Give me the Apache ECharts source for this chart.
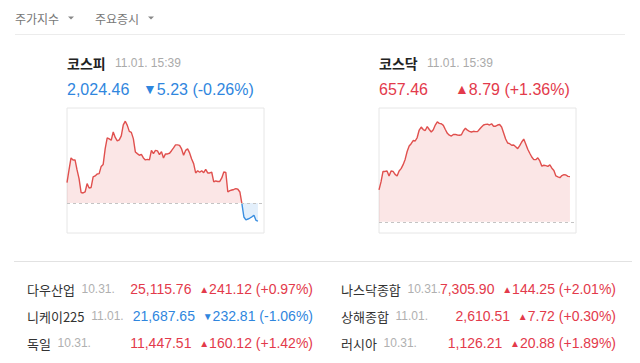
<!DOCTYPE html>
<html><head><meta charset="utf-8">
<script src="https://cdn.jsdelivr.net/npm/echarts@6/dist/echarts.min.js"></script>
<style>html,body{margin:0;padding:0;background:#fff}#c{width:640px;height:363px}</style>
</head><body><div id="c"></div>
<script>
const tabLabels = ['주가지수', '주요증시'];
const indexNames = ['코스피', '코스닥'];
const indexTimes = ['11.01. 15:39', '11.01. 15:39'];
const indexPrices = ['2,024.46', '657.46'];
const indexChanges = [-5.23, 8.79];
const indexRates = [-0.26, 1.36];
const prevCloses = [2029.69, 648.67];
const yRanges = [[2021.0, 2057.2], [646.5, 670.8]];
const kospiValues = [
  2035.58, 2039.26, 2042.74, 2042.16, 2042.16, 2039.26, 2036.74, 2032.74, 2032.59, 2032.88,
  2035.29, 2034.04, 2034.19, 2037.23, 2037.52, 2038.10, 2038.19, 2040.28, 2040.86, 2045.44,
  2048.54, 2048.25, 2047.87, 2050.28, 2048.69, 2047.67, 2047.96, 2049.12, 2052.31, 2053.38,
  2052.17, 2050.43, 2050.14, 2048.34, 2044.48, 2043.99, 2043.52, 2043.76, 2042.74, 2042.16,
  2042.31, 2042.16, 2044.92, 2043.99, 2044.92, 2044.77, 2043.70, 2044.57, 2042.74, 2043.90,
  2043.90, 2044.10, 2044.83, 2045.64, 2046.51, 2046.51, 2046.37, 2045.35, 2043.52, 2044.92,
  2045.35, 2044.19, 2042.45, 2041.09, 2038.39, 2039.03, 2038.59, 2039.03, 2038.48, 2039.41,
  2038.39, 2038.39, 2038.59, 2035.78, 2036.07, 2035.93, 2035.93, 2036.94, 2038.68, 2038.54,
  2032.88, 2033.26, 2033.46, 2033.61, 2033.84, 2033.66, 2032.88, 2029.49, 2025.63, 2024.82,
  2025.05, 2025.34, 2025.69, 2026.12, 2024.67, 2024.46
];
const kosdaqValues = [
  654.88, 656.43, 658.47, 658.47, 658.56, 657.59, 658.56, 658.47, 657.89, 657.59,
  658.56, 659.01, 659.79, 660.80, 662.35, 663.41, 663.86, 664.48, 664.38, 665.06,
  666.52, 667.10, 666.62, 666.42, 667.20, 666.62, 666.13, 666.58, 667.49, 668.11,
  667.82, 667.74, 667.43, 666.62, 665.88, 665.51, 665.35, 665.65, 665.66, 665.55,
  665.51, 665.61, 666.38, 666.85, 666.48, 666.27, 666.13, 666.27, 666.21, 666.21,
  666.67, 667.10, 667.49, 667.62, 667.66, 667.49, 667.74, 667.26, 667.26, 667.49,
  667.60, 667.10, 665.94, 664.77, 664.00, 663.86, 663.55, 663.61, 663.26, 662.89,
  663.47, 664.19, 664.77, 663.80, 662.79, 662.00, 661.28, 660.76, 660.76, 661.12,
  660.50, 659.50, 659.67, 659.59, 659.46, 659.73, 659.09, 658.66, 657.59, 657.42,
  657.26, 657.67, 657.85, 657.77, 657.50, 657.46
];
const worldNames = ['다우산업', '니케이225', '독일', '나스닥종합', '상해종합', '러시아'];
const worldDates = ['10.31.', '11.01.', '10.31.', '10.31.', '11.01.', '10.31.'];
const worldPrices = ['25,115.76', '21,687.65', '11,447.51', '7,305.90', '2,610.51', '1,126.21'];
const worldChanges = [241.12, -232.81, 160.12, 144.25, 7.72, 20.88];
const worldRates = [0.97, -1.06, 1.42, 2.01, 0.30, 1.89];

const RED = '#e33a4b', BLUE = '#2f86de';
const LINE_RED = '#e0504e', LINE_BLUE = '#3a8ee0';
const FONT = "'Liberation Sans', 'Noto Sans CJK KR', sans-serif";
const KFONT = "'Noto Sans CJK KR', 'Liberation Sans', sans-serif";
const fmtChange = c => (c > 0 ? '▲' : '▼') + Math.abs(c).toFixed(2);
const fmtRate = r => '(' + (r > 0 ? '+' : '') + r.toFixed(2) + '%)';

const chart = echarts.init(document.getElementById('c'), null, {renderer: 'svg'});
const g = [];
const tabX = [15, 95];
tabLabels.forEach((t, i) => {
  g.push({type: 'text', x: tabX[i], y: 18, style: {text: t, font: '12px ' + KFONT, fill: '#777', verticalAlign: 'middle', align: 'left'}});
  const tx = tabX[i] + 53;
  g.push({type: 'polygon', shape: {points: [[tx, 16.5], [tx + 6, 16.5], [tx + 3, 19.5]]}, style: {fill: '#888'}});
});
g.push({type: 'line', shape: {x1: 15, y1: 34.5, x2: 625, y2: 34.5}, style: {stroke: '#ececec', lineWidth: 1}});
const headX = [67, 379];
indexNames.forEach((n, i) => {
  const col = indexChanges[i] > 0 ? RED : BLUE;
  const ch = fmtChange(indexChanges[i]);
  g.push({type: 'text', x: headX[i], y: 63, style: {text: n, font: 'bold 14px ' + KFONT, fill: '#222', verticalAlign: 'middle', align: 'left'}});
  g.push({type: 'text', x: headX[i] + 48, y: 63, style: {text: indexTimes[i], font: '12px ' + FONT, fill: '#aaa', verticalAlign: 'middle', align: 'left'}});
  g.push({type: 'text', x: headX[i], y: 89, style: {text: indexPrices[i], font: '16px ' + FONT, fill: col, verticalAlign: 'middle', align: 'left'}});
  g.push({type: 'text', x: headX[i] + 76, y: 89, style: {text: '{t|' + ch.charAt(0) + '}{v|' + ch.slice(1) + ' ' + fmtRate(indexRates[i]) + '}',
    verticalAlign: 'middle', align: 'left', rich: {t: {font: '14px ' + FONT, fill: col}, v: {font: '16px ' + FONT, fill: col}}}});
});
g.push({type: 'line', shape: {x1: 14, y1: 261.5, x2: 632, y2: 261.5}, style: {stroke: '#e2e2e2', lineWidth: 1}});
const rowY = [289, 316, 343];
worldNames.forEach((n, i) => {
  const colIdx = i < 3 ? 0 : 1;
  const y = rowY[i % 3];
  const nameX = colIdx === 0 ? 27 : 341;
  const rightX = colIdx === 0 ? 313 : 616;
  const col = worldChanges[i] > 0 ? RED : BLUE;
  const ch = fmtChange(worldChanges[i]);
  g.push({type: 'text', x: nameX, y: y, style: {text: '{n|' + n + '}{d|  ' + worldDates[i] + '}', verticalAlign: 'middle', align: 'left',
    rich: {n: {font: '13px ' + KFONT, fill: '#333'}, d: {font: '12px ' + FONT, fill: '#b0b0b0'}}}});
  g.push({type: 'text', x: rightX, y: y, style: {text: '{v|' + worldPrices[i] + '  }{t|' + ch.charAt(0) + '}{v|' + ch.slice(1) + ' ' + fmtRate(worldRates[i]) + '}',
    verticalAlign: 'middle', align: 'right', rich: {t: {font: '10px ' + FONT, fill: col}, v: {font: '14px ' + FONT, fill: col}}}});
});

// split KOSPI into part above and part below previous close
let cross = kospiValues.findIndex(v => v < prevCloses[0]);
if (cross < 0) cross = kospiValues.length;
const kospiUp = kospiValues.map((v, i) => [i, v]).slice(0, cross + 1);
const kospiDown = kospiValues.map((v, i) => [i, v]).slice(cross);

const gridBase = {top: 108, height: 125, width: 197, show: true, borderColor: '#e6e6e6', borderWidth: 1, backgroundColor: 'transparent'};
const mkLine = v => ({silent: true, symbol: 'none', label: {show: false}, lineStyle: {color: '#c4c4c4', type: [3, 3], width: 1}, data: [{yAxis: v}]});
const lineSeries = (xi, data, color, origin, ml) => {
  const s = {type: 'line', xAxisIndex: xi, yAxisIndex: xi, data: data, symbol: 'none', showSymbol: false,
    itemStyle: {color: color}, lineStyle: {width: 1.4, color: color},
    areaStyle: {origin: origin, color: color, opacity: 0.14}};
  if (ml) s.markLine = mkLine(origin);
  return s;
};
chart.setOption({
  animation: false,
  grid: [Object.assign({left: 67}, gridBase), Object.assign({left: 379}, gridBase)],
  xAxis: [0, 1].map(i => ({gridIndex: i, type: 'value', min: 0, max: 98, show: false})),
  yAxis: [0, 1].map(i => ({gridIndex: i, type: 'value', min: yRanges[i][0], max: yRanges[i][1], show: false})),
  series: [
    lineSeries(0, kospiUp, LINE_RED, prevCloses[0], true),
    lineSeries(0, kospiDown, LINE_BLUE, prevCloses[0], false),
    lineSeries(1, kosdaqValues.map((v, i) => [i, v]), LINE_RED, prevCloses[1], true)
  ],
  graphic: g
});
</script></body></html>
